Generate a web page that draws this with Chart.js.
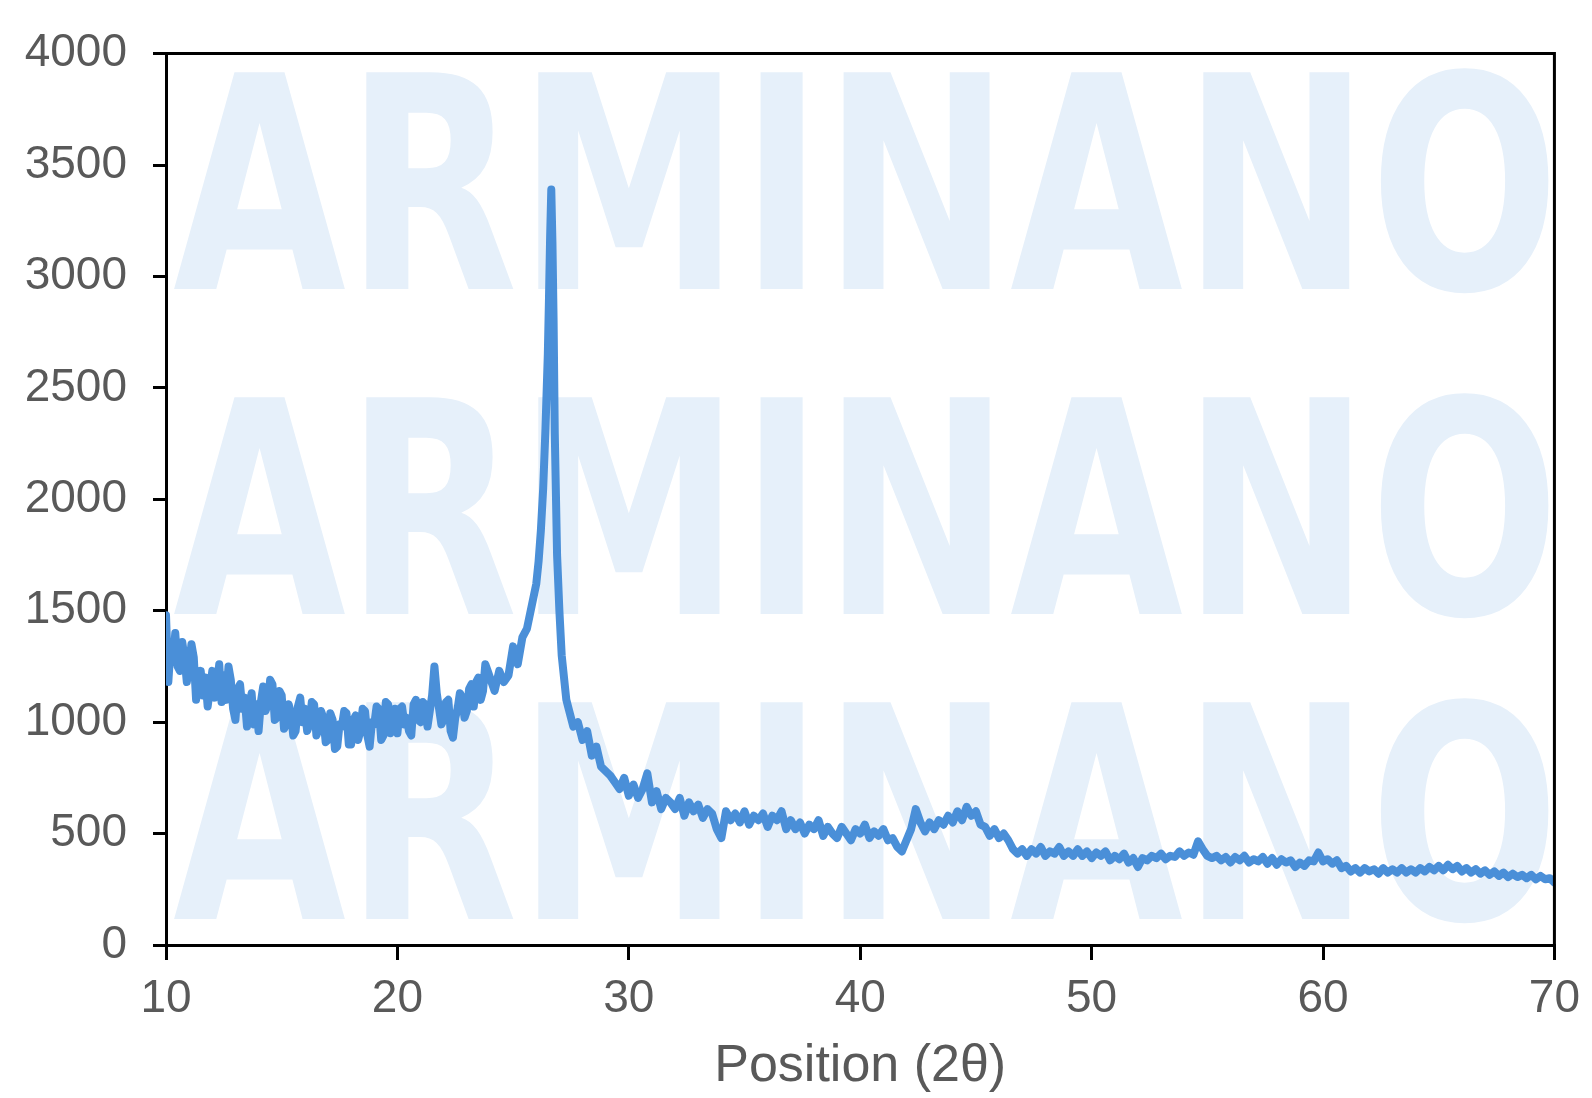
<!DOCTYPE html>
<html><head><meta charset="utf-8">
<script src="https://cdn.jsdelivr.net/npm/chart.js@4.4.1/dist/chart.umd.min.js"></script>
<style>html,body{margin:0;padding:0;background:#fff}#wrap{width:1592px;height:1098px}</style>
</head><body><div id="wrap"><canvas id="c" width="1592" height="1098"></canvas></div>
<script>
// ---- data ----
const positions = [
  10,10.1,10.2,10.3,10.4,10.5,10.6,10.7,10.8,10.9, 11,11.1,11.2,11.3,11.4,11.5,11.6,11.7,11.8,11.9,
  12,12.1,12.2,12.3,12.4,12.5,12.6,12.7,12.8,12.9, 13,13.1,13.2,13.3,13.4,13.5,13.6,13.7,13.8,13.9,
  14,14.1,14.2,14.3,14.4,14.5,14.6,14.7,14.8,14.9, 15,15.1,15.2,15.3,15.4,15.5,15.6,15.7,15.8,15.9,
  16,16.1,16.2,16.3,16.4,16.5,16.6,16.7,16.8,16.9, 17,17.1,17.2,17.3,17.4,17.5,17.6,17.7,17.8,17.9,
  18,18.1,18.2,18.3,18.4,18.5,18.6,18.7,18.8,18.9, 19,19.1,19.2,19.3,19.4,19.5,19.6,19.7,19.8,19.9,
  20,20.1,20.2,20.3,20.4,20.5,20.6,20.7,20.8,20.9, 21,21.1,21.2,21.3,21.4,21.5,21.6,21.7,21.8,21.9,
  22,22.1,22.2,22.3,22.4,22.5,22.6,22.7,22.8,22.9, 23,23.1,23.2,23.3,23.4,23.5,23.6,23.7,23.8,23.9,
  24,24.2,24.4,24.6,24.8, 25,25.2,25.4,25.6,25.8,
  26,26.1,26.2,26.3,26.4,26.5,26.55,26.6,26.65,26.7,26.75,26.8,26.9,
  27,27.1,27.2,27.3,27.4,27.6,27.8,
  28,28.2,28.4,28.6,28.8, 29,29.2,29.4,29.6,29.8, 30,30.2,30.4,30.6,30.8, 31,31.2,31.4,31.6,31.8,
  32,32.2,32.4,32.6,32.8, 33,33.2,33.4,33.6,33.8, 34,34.2,34.4,34.6,34.8, 35,35.2,35.4,35.6,35.8,
  36,36.2,36.4,36.6,36.8, 37,37.2,37.4,37.6,37.8, 38,38.2,38.4,38.6,38.8, 39,39.2,39.4,39.6,39.8,
  40,40.2,40.4,40.6,40.8, 41,41.2,41.4,41.6,41.8, 42,42.2,42.4,42.6,42.8, 43,43.2,43.4,43.6,43.8,
  44,44.2,44.4,44.6,44.8, 45,45.2,45.4,45.6,45.8, 46,46.2,46.4,46.6,46.8, 47,47.2,47.4,47.6,47.8,
  48,48.2,48.4,48.6,48.8, 49,49.2,49.4,49.6,49.8, 50,50.2,50.4,50.6,50.8, 51,51.2,51.4,51.6,51.8,
  52,52.2,52.4,52.6,52.8, 53,53.2,53.4,53.6,53.8, 54,54.2,54.4,54.6,54.8, 55,55.2,55.4,55.6,55.8,
  56,56.2,56.4,56.6,56.8, 57,57.2,57.4,57.6,57.8, 58,58.2,58.4,58.6,58.8, 59,59.2,59.4,59.6,59.8,
  60,60.2,60.4,60.6,60.8, 61,61.2,61.4,61.6,61.8, 62,62.2,62.4,62.6,62.8, 63,63.2,63.4,63.6,63.8,
  64,64.2,64.4,64.6,64.8, 65,65.2,65.4,65.6,65.8, 66,66.2,66.4,66.6,66.8, 67,67.2,67.4,67.6,67.8,
  68,68.2,68.4,68.6,68.8, 69,69.2,69.4,69.6,69.8, 70
];
const intensities = [
  1480,1180,1340,1270,1400,1250,1230,1360,1290,1180, 1250,1350,1290,1100,1160,1230,1120,1200,1070,1150,
  1230,1110,1160,1260,1090,1210,1100,1250,1190,1060, 1010,1150,1170,1060,1110,980,1070,1130,990,1080,
  960,1090,1160,1050,1080,1190,1170,1010,1020,1140, 1120,970,990,1080,1040,940,960,1070,1110,1000,
  1060,960,990,1090,1080,940,970,1050,1020,910, 920,1040,1010,880,890,990,980,1050,1040,900,
  900,1010,1030,920,960,1060,1050,940,890,1000, 990,1070,1060,920,940,1090,1080,950,1000,1060,
  950,1060,1070,990,1020,960,940,1080,1100,1010, 1000,1090,1080,980,1050,1120,1250,1130,1060,990,
  1010,1090,1100,960,930,1020,1060,1130,1110,1020, 1050,1150,1170,1070,1180,1200,1100,1140,1260,1230,
  1200,1140,1230,1180,1210, 1340,1260,1380,1420,1520,
  1620,1720,1860,2050,2320,2650,2900,3180,3390,3150,2800,2300,1750,
  1500,1300,1200,1100,1060,980,1000,
  920,960,850,890,800, 780,760,730,700,750, 670,720,660,700,770, 640,690,610,660,640,
  610,660,580,640,600, 630,570,610,590,520, 480,600,560,590,550, 600,540,580,560,590,
  530,580,560,600,520, 560,520,550,500,540, 520,560,490,530,500, 480,530,500,470,520,
  500,540,480,510,490, 520,470,480,440,420, 470,520,610,550,510, 550,520,560,540,580,
  550,600,560,620,580, 600,540,530,490,520, 480,500,470,430,410, 430,400,430,410,440,
  400,420,410,440,400, 420,400,430,400,420, 390,415,400,420,380, 400,385,410,370,390,
  350,390,380,400,390, 410,385,400,395,420, 400,415,405,465,430, 400,390,400,380,395,
  370,395,380,400,370, 385,375,395,365,390, 360,385,370,380,350, 370,355,380,375,415,
  375,385,365,380,345, 355,330,345,325,345, 330,340,320,345,325, 340,325,345,325,340,
  325,345,330,350,335, 355,335,360,340,355, 330,345,325,340,320, 335,315,330,310,325,
  305,320,305,315,300, 315,295,310,295,300, 280
];
const xTickValues = [10,20,30,40,50,60,70];
const yTickValues = [0,500,1000,1500,2000,2500,3000,3500,4000];
const xTitle = 'Position (2θ)';
const watermarkText = 'ARMINANO';

// ---- chart ----
const points = positions.map((p,i)=>({x:p, y:intensities[i]}));
const FONT = '"Liberation Sans", Arial, sans-serif';

const watermark = {
  id:'watermark',
  beforeDatasetsDraw(chart){
    const {ctx, chartArea:a} = chart;
    ctx.save();
    ctx.beginPath(); ctx.rect(a.left, a.top, a.right-a.left, a.bottom-a.top); ctx.clip();
    ctx.fillStyle = 'rgb(230,240,250)';
    ctx.font = 'bold 300px "Liberation Sans Narrow","DejaVu Sans Condensed","Liberation Sans",sans-serif';
    ctx.textBaseline = 'alphabetic';
    const m = ctx.measureText(watermarkText);
    const w = m.actualBoundingBoxRight + m.actualBoundingBoxLeft;
    const h = m.actualBoundingBoxAscent;
    const x0 = 173, x1 = 1552;
    const rows = [[66,289],[391,614],[696,919]];
    for (const [t,b] of rows){
      ctx.save();
      ctx.translate(x0, b);
      ctx.scale((x1-x0)/w, (b-t)/h);
      ctx.fillText(watermarkText, m.actualBoundingBoxLeft, 0);
      ctx.restore();
    }
    ctx.restore();
  },
  afterDatasetsDraw(chart){
    const {ctx, chartArea:a} = chart;
    ctx.save();
    ctx.strokeStyle = '#000'; ctx.lineWidth = 3;
    ctx.beginPath();
    ctx.moveTo(a.left, a.top); ctx.lineTo(a.right, a.top); ctx.lineTo(a.right, a.bottom);
    ctx.stroke();
    ctx.restore();
  }
};

new Chart(document.getElementById('c'), {
  type:'line',
  data:{ datasets:[{ data:points, borderColor:'#4a8fd8', borderWidth:8, borderJoinStyle:'round', borderCapStyle:'round', pointRadius:0, tension:0, fill:false }]},
  options:{
    responsive:false, animation:false, devicePixelRatio:1,
    layout:{ padding:{ top:46, right:30, bottom:0, left:0 } },
    plugins:{ legend:{display:false}, tooltip:{enabled:false} },
    scales:{
      x:{
        type:'linear', min:10, max:70,
        afterBuildTicks(s){ s.ticks = xTickValues.map(v=>({value:v})); },
        afterFit(s){ s.height = 153; },
        grid:{ drawOnChartArea:false, drawTicks:true, tickLength:15, color:'#000', lineWidth:3 },
        border:{ display:true, color:'#000', width:3 },
        ticks:{ padding:12, color:'#595959', font:{ family:FONT, size:46 }, maxRotation:0, callback:v=>String(v) },
        title:{ display:true, text:xTitle, color:'#595959', font:{ family:FONT, size:52 }, padding:{top:0,bottom:0} }
      },
      y:{
        min:0, max:4000,
        afterBuildTicks(s){ s.ticks = yTickValues.map(v=>({value:v})); },
        afterFit(s){ s.width = 166; },
        grid:{ drawOnChartArea:false, drawTicks:true, tickLength:13, color:'#000', lineWidth:3 },
        border:{ display:true, color:'#000', width:3 },
        ticks:{ padding:26, color:'#595959', font:{ family:FONT, size:46 }, callback:v=>String(v) }
      }
    }
  },
  plugins:[watermark]
});
</script>
</body></html>
